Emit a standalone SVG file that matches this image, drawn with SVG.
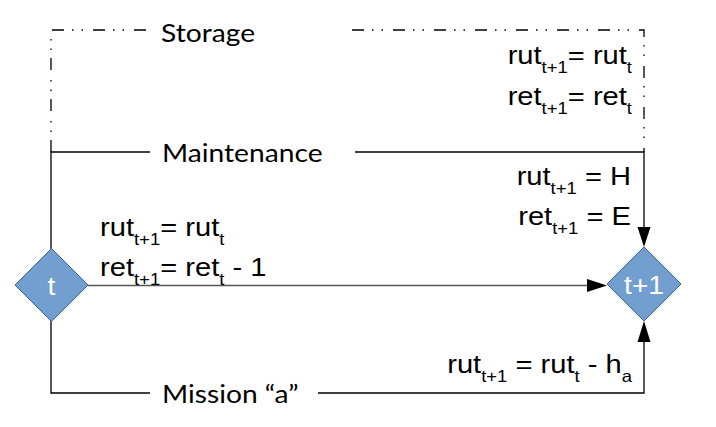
<svg xmlns="http://www.w3.org/2000/svg" width="716" height="427" viewBox="0 0 716 427">
<style>
.f{font-family:"Liberation Sans",Arial,sans-serif;font-size:26px;fill:#000}
.s{font-size:16.5px}
.l{font-family:Lato,"Liberation Sans",sans-serif;font-size:26px;fill:#000}
.dn{fill:#729fcf;stroke:#3465a4;stroke-width:1}
.dt{font-family:"Liberation Sans",Arial,sans-serif;font-size:26px;fill:#fff;text-anchor:middle}
.ln{fill:none;stroke:#000;stroke-width:1.3}
.dd{fill:none;stroke:#000;stroke-width:1.3;stroke-dasharray:12 8 1.5 8 1.5 10}
.ar{fill:#000}
</style>
<g id="connectors">
<path class="dd" d="M51,152 V30 H150"/>
<path class="dd" d="M352,30 H644 V152"/>
<path class="ln" d="M51,249 V152 H150"/>
<path class="ln" d="M355,152 H644 V228"/>
<polygon class="ar" points="637.5,227 650.5,227 644,247"/>
<path d="M88,285.5 H590" fill="none" stroke="#555" stroke-width="1.5"/>
<polygon class="ar" points="587,279 587,292 607,285.5"/>
<path class="ln" d="M51,321 V393 H150"/>
<path class="ln" d="M318,393 H644 V341"/>
<polygon class="ar" points="637.5,342 650.5,342 644,321"/>
</g>
<g id="labels">
<text class="l" transform="translate(161,42) scale(1.085,1)">Storage</text>
<text class="l" transform="translate(162,162) scale(1.085,1)">Maintenance</text>
<text class="l" transform="translate(162,403) scale(1.085,1)">Mission “a”</text>
<text class="f" transform="translate(632,64) scale(1.12,1)" text-anchor="end">rut<tspan class="s" dy="9">t+1</tspan><tspan dy="-9">= rut</tspan><tspan class="s" dy="9">t</tspan></text>
<text class="f" transform="translate(632,105) scale(1.12,1)" text-anchor="end">ret<tspan class="s" dy="9">t+1</tspan><tspan dy="-9">= ret</tspan><tspan class="s" dy="9">t</tspan></text>
<text class="f" transform="translate(631,185) scale(1.12,1)" text-anchor="end">rut<tspan class="s" dy="9">t+1</tspan><tspan dy="-9"> = H</tspan></text>
<text class="f" transform="translate(631,225) scale(1.12,1)" text-anchor="end">ret<tspan class="s" dy="9">t+1</tspan><tspan dy="-9"> = E</tspan></text>
<text class="f" transform="translate(100,236) scale(1.12,1)">rut<tspan class="s" dy="9">t+1</tspan><tspan dy="-9">= rut</tspan><tspan class="s" dy="9">t</tspan></text>
<text class="f" transform="translate(100,276) scale(1.12,1)">ret<tspan class="s" dy="9">t+1</tspan><tspan dy="-9">= ret</tspan><tspan class="s" dy="9">t</tspan><tspan dy="-9"> - 1</tspan></text>
<text class="f" transform="translate(632,373) scale(1.12,1)" text-anchor="end">rut<tspan class="s" dy="9">t+1</tspan><tspan dy="-9"> = rut</tspan><tspan class="s" dy="9">t</tspan><tspan dy="-9"> - h</tspan><tspan class="s" dy="9">a</tspan></text>
</g>
<g id="node-t">
<polygon class="dn" points="51.5,248.5 88,285 51.5,321.5 15,285"/>
<text class="dt" transform="translate(51.5,295) scale(1.08,1)">t</text>
</g>
<g id="node-t1">
<polygon class="dn" points="644,247 681,284 644,321 607,284"/>
<text class="dt" transform="translate(644,294) scale(1.08,1)">t+1</text>
</g>
</svg>
